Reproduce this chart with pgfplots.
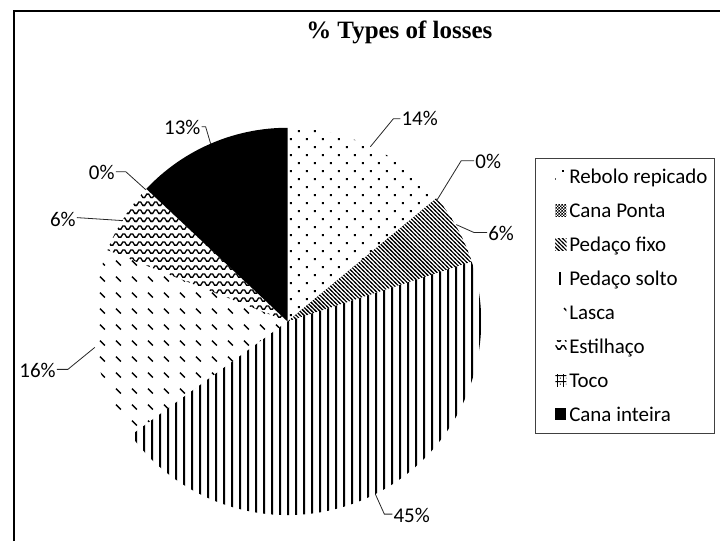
\documentclass[border=0pt]{standalone}
\usepackage{fontspec}
\setmainfont{Carlito}
\newfontfamily\titlefont{Liberation Serif}
\usepackage{pgfplots}
\usepackage{pgfplotstable}
\pgfplotsset{compat=1.18}
\usetikzlibrary{patterns}

% ---- patterns (1bp = 1px) ----
\pgfdeclarepatternformonly{rebolo}{\pgfqpoint{0bp}{0bp}}{\pgfqpoint{16bp}{16bp}}{\pgfqpoint{16bp}{16bp}}{%
  \pgfpathrectangle{\pgfqpoint{3bp}{3bp}}{\pgfqpoint{1.8bp}{1.8bp}}%
  \pgfpathrectangle{\pgfqpoint{11bp}{11bp}}{\pgfqpoint{1.8bp}{1.8bp}}%
  \pgfusepath{fill}}
\pgfdeclarepatternformonly{canaponta}{\pgfqpoint{0bp}{0bp}}{\pgfqpoint{3bp}{3bp}}{\pgfqpoint{3bp}{3bp}}{%
  \pgfpathrectangle{\pgfqpoint{0bp}{0bp}}{\pgfqpoint{1.5bp}{1.5bp}}%
  \pgfpathrectangle{\pgfqpoint{1.5bp}{1.5bp}}{\pgfqpoint{1.5bp}{1.5bp}}%
  \pgfusepath{fill}}
\pgfdeclarepatternformonly{pfixo}{\pgfqpoint{-1bp}{-1bp}}{\pgfqpoint{5bp}{5bp}}{\pgfqpoint{4bp}{4bp}}{%
  \pgfsetlinewidth{1.1bp}%
  \pgfpathmoveto{\pgfqpoint{-1bp}{5bp}}\pgfpathlineto{\pgfqpoint{5bp}{-1bp}}%
  \pgfusepath{stroke}}
\pgfdeclarepatternformonly{vlines}{\pgfqpoint{0bp}{0bp}}{\pgfqpoint{8bp}{8bp}}{\pgfqpoint{8bp}{8bp}}{%
  \pgfpathrectangle{\pgfqpoint{0bp}{0bp}}{\pgfqpoint{2.1bp}{8bp}}%
  \pgfusepath{fill}}
\pgfdeclarepatternformonly{lasca}{\pgfqpoint{0bp}{0bp}}{\pgfqpoint{16bp}{16bp}}{\pgfqpoint{16bp}{16bp}}{%
  \pgfsetlinewidth{1.4bp}%
  \pgfpathmoveto{\pgfqpoint{5bp}{10.5bp}}\pgfpathlineto{\pgfqpoint{10bp}{5.5bp}}%
  \pgfusepath{stroke}}
\pgfdeclarepatternformonly{zigzag}{\pgfqpoint{-1bp}{0bp}}{\pgfqpoint{9bp}{8bp}}{\pgfqpoint{8bp}{8bp}}{%
  \pgfsetlinewidth{1.3bp}%
  \pgfpathmoveto{\pgfqpoint{-1bp}{1.5bp}}%
  \pgfpathlineto{\pgfqpoint{1bp}{1.5bp}}%
  \pgfpathlineto{\pgfqpoint{3bp}{4.8bp}}%
  \pgfpathlineto{\pgfqpoint{5bp}{4.8bp}}%
  \pgfpathlineto{\pgfqpoint{7bp}{1.5bp}}%
  \pgfpathlineto{\pgfqpoint{9bp}{1.5bp}}%
  \pgfusepath{stroke}}
\pgfdeclarepatternformonly{toco}{\pgfqpoint{0bp}{0bp}}{\pgfqpoint{6bp}{6bp}}{\pgfqpoint{6bp}{6bp}}{%
  \pgfpathrectangle{\pgfqpoint{0bp}{5bp}}{\pgfqpoint{6bp}{1bp}}%
  \pgfpathrectangle{\pgfqpoint{0bp}{0bp}}{\pgfqpoint{1bp}{6bp}}%
  \pgfpathrectangle{\pgfqpoint{3bp}{2.5bp}}{\pgfqpoint{1bp}{1bp}}%
  \pgfusepath{fill}}

\tikzset{
  slice0/.style={pattern=rebolo},
  slice1/.style={pattern=canaponta},
  slice2/.style={pattern=pfixo},
  slice3/.style={pattern=vlines},
  slice4/.style={pattern=lasca},
  slice5/.style={pattern=zigzag},
  slice6/.style={pattern=toco},
  slice7/.style={fill=black},
  lead/.style={draw=black!85, line width=0.8bp},
  lab/.style={font=\fontsize{21bp}{25bp}\selectfont, inner sep=1bp},
}

\pgfplotstableread[col sep=comma]{
name,value
Rebolo repicado,14
Cana Ponta,0
Pedaco fixo,6
Pedaco solto,45
Lasca,16
Estilhaco,6
Toco,0
Cana inteira,13
}\losses

\begin{document}
\begin{tikzpicture}
\begin{axis}[
  hide axis, scale only axis,
  width=721bp, height=542bp,
  xmin=0, xmax=721, ymin=0, ymax=542,
  clip=false,
  legend image code/.code={\fill[#1, draw=none] (0bp,-3.5bp) rectangle (11bp,8.5bp);},
  legend style={at={(0.7712,0.6863)}, anchor=north west, draw=none, fill=none,
    inner sep=0pt, row sep=16bp, column sep=3bp,
    font=\fontsize{21bp}{25bp}\selectfont,
    nodes={text height=14bp, text depth=4bp, inner sep=0pt}},
  legend cell align=left,
]
\path (axis cs:0,0) rectangle (axis cs:721,542);

% pie slices from the table
\def\cum{0}
\pgfplotsforeachungrouped \i in {0,...,7}{%
  \pgfplotstablegetelem{\i}{value}\of\losses
  \let\sliceval\pgfplotsretval
  \pgfmathsetmacro\angA{90-3.6*\cum}%
  \pgfmathsetmacro\angB{90-3.6*(\cum+\sliceval)}%
  \edef\temp{\noexpand\fill[slice\i] (axis cs:288,220) -- ++(\angA:194bp) arc[start angle=\angA, end angle=\angB, radius=194bp] -- cycle;}%
  \temp
  \pgfmathsetmacro\cum{\cum+\sliceval}%
}

% legend
\addlegendimage{slice0}\addlegendentry{Rebolo repicado}
\addlegendimage{slice1}\addlegendentry{Cana Ponta}
\addlegendimage{slice2}\addlegendentry{Pedaço fixo}
\addlegendimage{slice3}\addlegendentry{Pedaço solto}
\addlegendimage{slice4}\addlegendentry{Lasca}
\addlegendimage{slice5}\addlegendentry{Estilhaço}
\addlegendimage{slice6}\addlegendentry{Toco}
\addlegendimage{slice7}\addlegendentry{Cana inteira}
\draw[black!75, line width=1bp] (axis cs:536,383) rectangle (axis cs:716,108);

% frame
\draw[line width=2.5bp] (axis cs:14,0) -- (axis cs:14,531) -- (axis cs:721,531);

% title
\node[font=\titlefont\bfseries\fontsize{25bp}{30bp}\selectfont] at (axis cs:400,510) {\% Types of losses};

% data labels with leader lines
\draw[lead] (axis cs:371,395) -- (axis cs:394,423) -- (axis cs:401,423);
\node[lab, anchor=west] at (axis cs:401,423) {14\%};
\draw[lead] (axis cs:438,342) -- (axis cs:462,381) -- (axis cs:475,381);
\node[lab, anchor=west] at (axis cs:475,380) {0\%};
\draw[lead] (axis cs:457,317) -- (axis cs:475,309) -- (axis cs:488,309);
\node[lab, anchor=west] at (axis cs:488,308) {6\%};
\draw[lead] (axis cs:376,47) -- (axis cs:385,27) -- (axis cs:393,27);
\node[lab, anchor=west] at (axis cs:393,26) {45\%};
\draw[lead] (axis cs:95,194) -- (axis cs:68,172) -- (axis cs:57,172);
\node[lab, anchor=east] at (axis cs:57,171) {16\%};
\draw[lead] (axis cs:123,321) -- (axis cs:77,324);
\node[lab, anchor=east] at (axis cs:77,322) {6\%};
\draw[lead] (axis cs:146,352) -- (axis cs:126,370) -- (axis cs:116,370);
\node[lab, anchor=east] at (axis cs:116,369) {0\%};
\draw[lead] (axis cs:211,398) -- (axis cs:206,415) -- (axis cs:202,415);
\node[lab, anchor=east] at (axis cs:202,414) {13\%};
\end{axis}
\end{tikzpicture}
\end{document}
